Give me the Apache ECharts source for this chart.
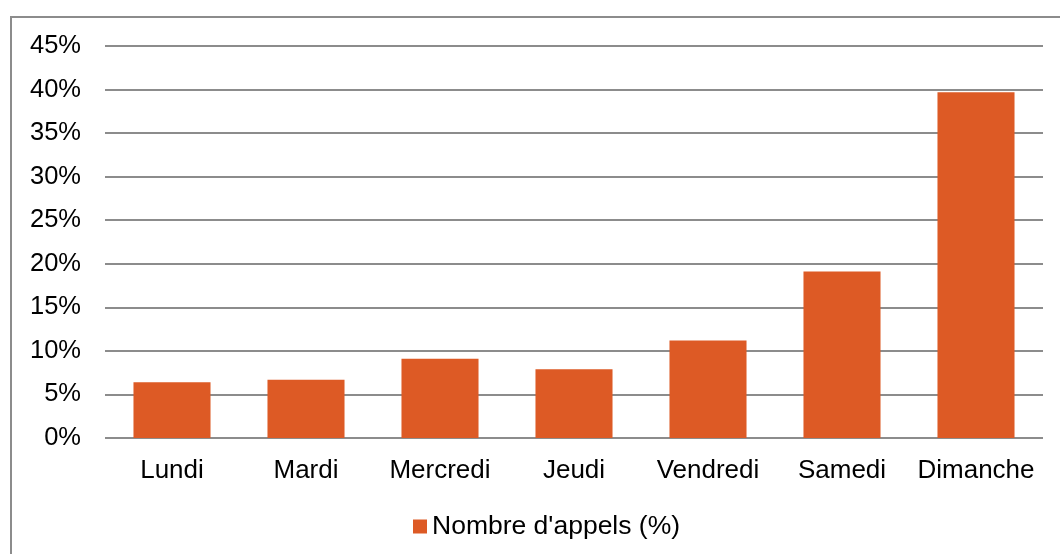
<!DOCTYPE html>
<html>
<head>
<meta charset="utf-8">
<script src="https://cdn.jsdelivr.net/npm/echarts@6/dist/echarts.min.js"></script>
<style>
  html, body { margin: 0; padding: 0; background: #fff; }
  #chart { width: 1060px; height: 554px; }
</style>
</head>
<body>
<div id="chart"></div>
<script>
// jours de la semaine et part des appels (%)
const days = ['Lundi', 'Mardi', 'Mercredi', 'Jeudi', 'Vendredi', 'Samedi', 'Dimanche'];
const callShare = [6.4, 6.7, 9.1, 7.9, 11.2, 19.1, 39.7];
const seriesName = "Nombre d'appels (%)";

const font = '"Liberation Sans", Arial, sans-serif';

const chart = echarts.init(document.getElementById('chart'));
chart.setOption({
    animation: false,
    backgroundColor: '#fff',
    graphic: [{
        type: 'rect',
        shape: { x: 11, y: 17, width: 1100, height: 600 },
        style: { fill: 'none', stroke: '#8c8c8c', lineWidth: 2 },
        silent: true
    }],
    grid: { left: 105, right: 17, top: 46, bottom: 116 },
    legend: {
        top: 508,
        left: 408,
        icon: 'rect',
        itemWidth: 14,
        itemHeight: 14,
        itemGap: 6,
        textStyle: { fontFamily: font, fontSize: 26.5, color: '#000' },
        data: [seriesName]
    },
    xAxis: {
        type: 'category',
        data: days,
        axisLine: { show: false },
        axisTick: { show: false },
        axisLabel: { interval: 0, fontFamily: font, fontSize: 26, color: '#000', margin: 20 }
    },
    yAxis: {
        type: 'value',
        min: 0,
        max: 45,
        interval: 5,
        axisLine: { show: false },
        axisTick: { show: false },
        axisLabel: { formatter: '{value}%', fontFamily: font, fontSize: 25.5, color: '#000', margin: 24 },
        splitLine: { lineStyle: { color: '#8c8c8c', width: 2 } }
    },
    series: [{
        name: seriesName,
        type: 'bar',
        data: callShare,
        barWidth: '57.5%',
        itemStyle: { color: '#dd5a25' }
    }]
});
</script>
</body>
</html>
